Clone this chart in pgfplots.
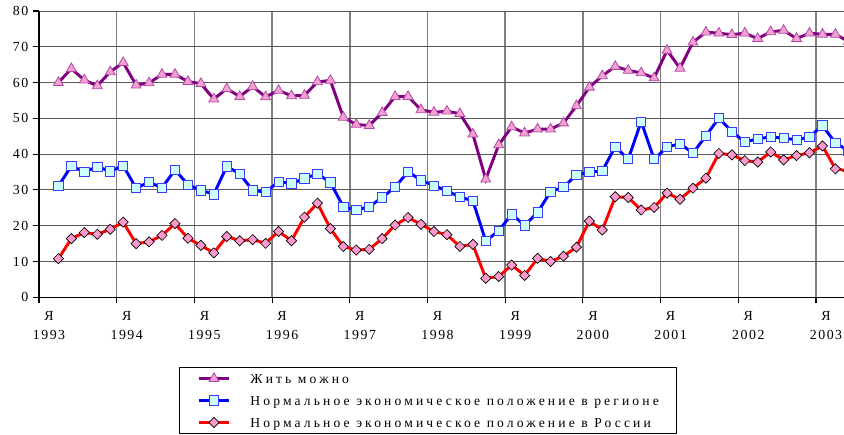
\documentclass[border=0pt]{standalone}
\usepackage{fontspec}
\setmainfont{Liberation Serif}
\newfontfamily\lsfont[LetterSpace=23]{Liberation Serif}
\newfontfamily\tkfont[LetterSpace=11]{Liberation Serif}
\usepackage{pgfplots}
\pgfplotsset{compat=1.18}
\usepackage{pgfplotstable}

\definecolor{cpurple}{HTML}{800080}
\definecolor{cpink}{HTML}{F4A0D0}
\definecolor{cpinkedge}{HTML}{B04AA8}
\definecolor{cblue}{HTML}{0000FF}
\definecolor{ccyan}{HTML}{CCFFFF}
\definecolor{cbluedge}{HTML}{3A3AFF}
\definecolor{cred}{HTML}{FF0000}
\definecolor{cdpink}{HTML}{FF99CC}

\pgfplotstableread{
x y
1.5 60.0
2.5 63.9
3.5 60.7
4.5 59.1
5.5 63.0
6.5 65.6
7.5 59.3
8.5 59.9
9.5 62.3
10.5 62.3
11.5 60.3
12.5 59.7
13.5 55.4
14.5 58.3
15.5 56.1
16.5 58.9
17.5 56.0
18.5 57.8
19.5 56.3
20.5 56.4
21.5 60.2
22.5 60.6
23.5 50.3
24.5 48.3
25.5 48.0
26.5 51.6
27.5 56.1
28.5 56.1
29.5 52.4
30.5 51.7
31.5 52.0
32.5 51.3
33.5 45.6
34.5 33.0
35.5 42.6
36.5 47.6
37.5 45.9
38.5 47.0
39.5 47.0
40.5 48.7
41.5 53.5
42.5 58.7
43.5 61.9
44.5 64.5
45.5 63.4
46.5 62.7
47.5 61.3
48.5 69.0
49.5 64.0
50.5 71.3
51.5 74.1
52.5 73.8
53.5 73.4
54.5 73.8
55.5 72.3
56.5 74.2
57.5 74.6
58.5 72.3
59.5 73.8
60.5 73.5
61.5 73.5
62.5 71.5
}\zhit

\pgfplotstableread{
x y
1.5 31.1
2.5 36.7
3.5 35.0
4.5 36.5
5.5 35.2
6.5 36.8
7.5 30.5
8.5 32.2
9.5 30.6
10.5 35.6
11.5 31.5
12.5 29.9
13.5 28.8
14.5 36.6
15.5 34.5
16.5 29.9
17.5 29.4
18.5 32.3
19.5 31.8
20.5 33.2
21.5 34.5
22.5 32.1
23.5 25.3
24.5 24.4
25.5 25.3
26.5 27.9
27.5 30.8
28.5 35.1
29.5 32.7
30.5 31.2
31.5 29.8
32.5 28.0
33.5 27.0
34.5 15.7
35.5 18.6
36.5 23.2
37.5 20.1
38.5 23.7
39.5 29.5
40.5 30.8
41.5 34.2
42.5 35.0
43.5 35.3
44.5 42.1
45.5 38.6
46.5 49.1
47.5 38.6
48.5 42.0
49.5 42.9
50.5 40.3
51.5 45.1
52.5 50.1
53.5 46.3
54.5 43.4
55.5 44.3
56.5 44.8
57.5 44.5
58.5 44.0
59.5 44.8
60.5 48.0
61.5 43.1
62.5 41.0
}\region

\pgfplotstableread{
x y
1.5 10.8
2.5 16.4
3.5 18.1
4.5 17.6
5.5 19.0
6.5 21.0
7.5 15.0
8.5 15.5
9.5 17.3
10.5 20.6
11.5 16.5
12.5 14.5
13.5 12.4
14.5 17.0
15.5 15.8
16.5 16.1
17.5 15.1
18.5 18.4
19.5 15.8
20.5 22.4
21.5 26.3
22.5 19.2
23.5 14.2
24.5 13.2
25.5 13.4
26.5 16.4
27.5 20.2
28.5 22.3
29.5 20.4
30.5 18.4
31.5 17.5
32.5 14.2
33.5 14.8
34.5 5.3
35.5 5.8
36.5 9.0
37.5 6.1
38.5 10.9
39.5 10.0
40.5 11.5
41.5 14.0
42.5 21.3
43.5 18.8
44.5 28.1
45.5 27.9
46.5 24.4
47.5 25.1
48.5 29.1
49.5 27.4
50.5 30.5
51.5 33.3
52.5 40.2
53.5 39.8
54.5 38.2
55.5 37.8
56.5 40.6
57.5 38.4
58.5 39.6
59.5 40.4
60.5 42.3
61.5 35.9
62.5 35.3
}\russia

\begin{document}
\begin{tikzpicture}
\clip (0,0) rectangle (633pt,326.25pt);
\begin{axis}[
  at={(29.25pt,103.275pt)}, anchor=south west, scale only axis,
  width=608.25pt, height=214.7pt,
  xmin=0, xmax=62.625, ymin=0, ymax=80,
  axis x line=bottom, axis y line=left,
  axis line style={-, line width=0.9pt, black},
  xtick={0,6,...,60}, ytick={0,10,...,80},
  xticklabels={{Я\\1993},{Я\\1994},{Я\\1995},{Я\\1996},{Я\\1997},{Я\\1998},{Я\\1999},{Я\\2000},{Я\\2001},{Я\\2002},{Я\\2003}},
  tick align=outside, major tick length=4.5pt,
  tick style={black, line width=0.8pt},
  xmajorgrids, ymajorgrids,
  x grid style={gray, line width=1.1pt},
  y grid style={black!65, line width=0.7pt},
  /pgf/number format/assume math mode=true,
  ticklabel style={font=\tkfont\fontsize{10.4}{14.5}\selectfont},
  xticklabel style={align=center, xshift=7.5pt, yshift=-2.5pt},
  clip marker paths=true,
  legend cell align=left,
  legend image code/.code={\draw[mark repeat=2,mark phase=2,#1] plot coordinates {(0pt,0pt)(11.25pt,0pt)(22.5pt,0pt)};},
  legend style={at={(0.1726,-0.2434)}, anchor=north west, draw=black, line width=0.8pt,
    inner xsep=13.5pt, inner ysep=2.65pt, row sep=5.3pt,
    font=\lsfont\fontsize{10.2}{12}\selectfont,
    nodes={inner sep=0pt, text height=9pt, text depth=2.2pt},
    /tikz/every odd column/.append style={column sep=15pt}},
]
\addplot[cpurple, line width=2.2pt, mark=triangle*, mark size=4.3pt,
  mark options={fill=cpink, draw=cpinkedge, line width=0.6pt, solid}] table {\zhit};
\addlegendentry{Жить можно}
\addplot[cblue, line width=2.2pt, mark=square*, mark size=3.5pt,
  mark options={fill=ccyan, draw=cbluedge, line width=0.6pt, solid}] table {\region};
\addlegendentry{Нормальное экономическое положение в регионе}
\addplot[cred, line width=2.2pt, mark=square*, mark size=2.7pt,
  mark options={fill=cdpink, draw=black, line width=0.5pt, rotate=45, solid}] table {\russia};
\addlegendentry{Нормальное экономическое положение в России}
\end{axis}
\end{tikzpicture}
\end{document}
